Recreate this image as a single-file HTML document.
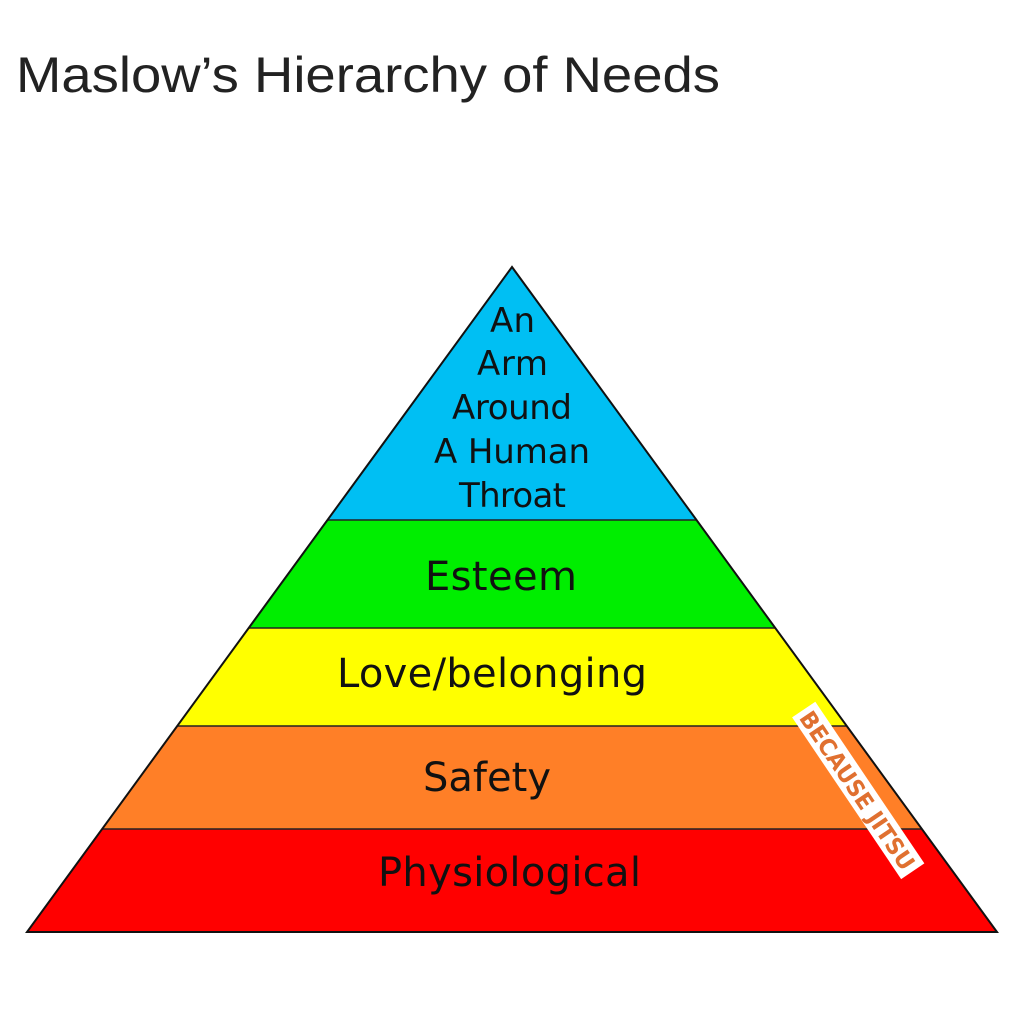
<!DOCTYPE html>
<html><head><style>
body{margin:0;width:1024px;height:1024px;background:#fff;overflow:hidden}
</style></head><body>
<svg width="1024" height="1024" xmlns="http://www.w3.org/2000/svg">
<defs><clipPath id="t"><polygon points="512,267 27,932 997,932"/></clipPath></defs>
<text x="16" y="92" font-family="Liberation Sans, sans-serif" font-size="50" fill="#222" textLength="704" lengthAdjust="spacingAndGlyphs">Maslow’s Hierarchy of Needs</text>
<g clip-path="url(#t)">
<rect x="0" y="260" width="1024" height="260" fill="#00bff3"/>
<rect x="0" y="520" width="1024" height="108" fill="#00ee00"/>
<rect x="0" y="628" width="1024" height="98" fill="#ffff00"/>
<rect x="0" y="726" width="1024" height="103" fill="#ff7f27"/>
<rect x="0" y="829" width="1024" height="110" fill="#ff0000"/>
<g stroke="#222" stroke-width="1.5"><line x1="0" y1="520" x2="1024" y2="520"/><line x1="0" y1="628" x2="1024" y2="628"/><line x1="0" y1="726" x2="1024" y2="726"/><line x1="0" y1="829" x2="1024" y2="829"/></g>
</g>
<polygon points="512,267 27,932 997,932" fill="none" stroke="#111" stroke-width="2"/>
<g font-family="DejaVu Sans, sans-serif" font-size="34" fill="#111" lengthAdjust="spacingAndGlyphs">
<text x="490" y="332" textLength="45">An</text>
<text x="477" y="375" textLength="71">Arm</text>
<text x="452" y="419" textLength="120">Around</text>
<text x="434" y="463" textLength="156">A Human</text>
<text x="459" y="507" textLength="107">Throat</text>
<text x="425" y="590" font-size="40" textLength="152">Esteem</text>
<text x="337" y="687" font-size="40" textLength="310">Love/belonging</text>
<text x="423" y="791" font-size="40" textLength="128">Safety</text>
<text x="378" y="886" font-size="40" textLength="263">Physiological</text>
</g>
<g transform="translate(812,704) rotate(56)">
<rect x="0" y="-4" width="195" height="28" fill="#fff"/>
<text x="4" y="19" font-family="DejaVu Sans, sans-serif" font-weight="bold" font-size="23" fill="#e07030" textLength="186" lengthAdjust="spacingAndGlyphs">BECAUSE JITSU</text>
</g>
</svg>
</body></html>
